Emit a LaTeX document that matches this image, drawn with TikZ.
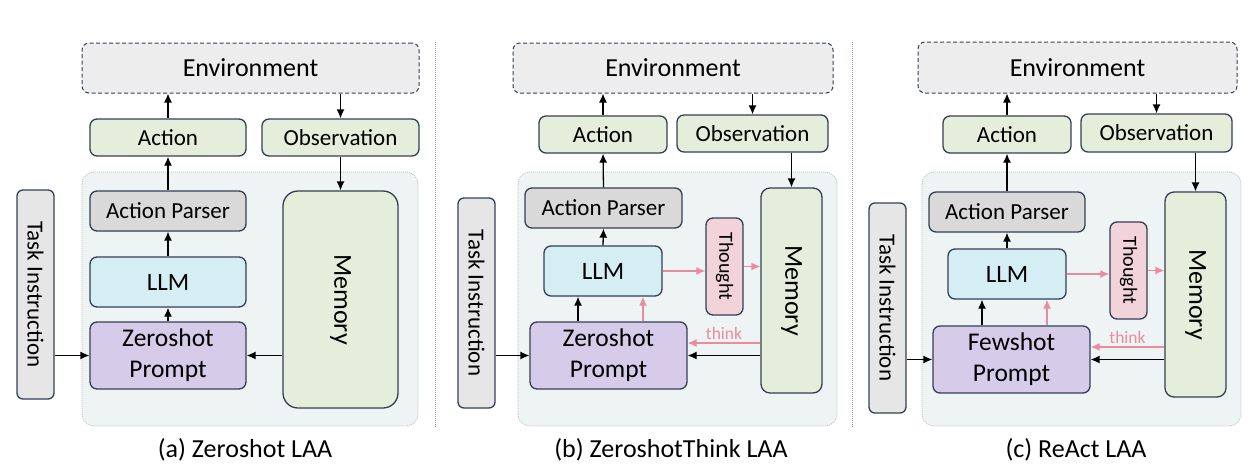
\documentclass[tikz,border=0pt]{standalone}
\usepackage{fontspec}
\setsansfont{Carlito}
\usetikzlibrary{arrows.meta}

\definecolor{edgecol}{RGB}{52,63,86}
\definecolor{envfill}{RGB}{237,237,237}
\definecolor{greenfill}{RGB}{228,238,218}
\definecolor{parserfill}{RGB}{217,217,217}
\definecolor{llmfill}{RGB}{212,238,244}
\definecolor{promptfill}{RGB}{214,204,233}
\definecolor{thoughtfill}{RGB}{242,211,217}
\definecolor{taskfill}{RGB}{231,230,230}
\definecolor{areafill}{RGB}{238,243,243}
\definecolor{thinkpink}{RGB}{233,140,160}

\begin{document}
\begin{tikzpicture}[x=1pt, y=-1pt, font=\sffamily,
    box/.style={draw=edgecol, line width=1.3pt, rounded corners=7pt,
      inner sep=0pt, align=center, font=\sffamily\fontsize{23}{28}\selectfont},
    envbox/.style={box, fill=envfill, dash pattern=on 4pt off 2.5pt,
      line width=1pt, font=\sffamily\fontsize{26}{30}\selectfont},
    greenbox/.style={box, fill=greenfill},
    parserbox/.style={box, fill=parserfill},
    llmbox/.style={box, fill=llmfill, font=\sffamily\fontsize{25}{30}\selectfont},
    promptbox/.style={box, fill=promptfill, font=\sffamily\fontsize{25.5}{31}\selectfont},
    membox/.style={box, fill=greenfill},
    thoughtbox/.style={box, fill=thoughtfill},
    taskbox/.style={box, fill=taskfill, rounded corners=6pt},
    vtext/.style={rotate=-90, inner sep=0pt},
    area/.style={fill=areafill, draw=black!25, line width=0.8pt,
      dash pattern=on 1pt off 1pt, rounded corners=12pt},
    sep/.style={draw=black!40, line width=0.8pt, dash pattern=on 1pt off 1pt},
    arr/.style={-{Latex[length=9pt,width=8pt]}, line width=1.3pt, black},
    pinkarr/.style={arr, draw=thinkpink, -{Latex[length=9pt,width=8pt,color=thinkpink]}},
    caption/.style={font=\sffamily\fontsize{26}{30}\selectfont}]

  \useasboundingbox (0,0) rectangle (1255,471);

  %% separators between the three panels
  \foreach \sx in {435,852} {
    \draw[sep] (\sx,42) -- (\sx,427); }

  %% ---------------- (a) Zeroshot LAA ----------------
  \draw[area] (82,172) rectangle (418,426);
  \node[envbox, minimum width=337pt, minimum height=50pt] (envA) at (250.5,68) {Environment};
  \node[greenbox, minimum width=156pt, minimum height=37pt] (actA) at (168,137.5) {Action};
  \node[greenbox, minimum width=157pt, minimum height=37pt] (obsA) at (340.5,137.5) {Observation};
  \node[parserbox, minimum width=156pt, minimum height=40pt] (apA) at (168,211) {Action Parser};
  \node[llmbox, minimum width=156pt, minimum height=50pt] (llmA) at (168,282) {LLM};
  \node[promptbox, minimum width=156pt, minimum height=67pt] (prA) at (168,355.5) {Zeroshot\\Prompt};
  \node[membox, rounded corners=15pt, minimum width=115pt, minimum height=217pt,
    label={[vtext, font=\sffamily\fontsize{26}{30}\selectfont]center:Memory}] (memA) at (340.5,299.5) {};
  \node[taskbox, minimum width=37pt, minimum height=209pt,
    label={[vtext, font=\sffamily\fontsize{23}{28}\selectfont]center:Task Instruction}] (taskA) at (35.5,294.5) {};

  \draw[arr] (actA.north) -- (envA.south -| actA.north);
  \draw[arr] (envA.south -| obsA.north) -- (obsA.north);
  \draw[arr] (obsA.south) -- (memA.north);
  \draw[arr] (apA.north) -- (actA.south);
  \draw[arr] (llmA.north) -- (apA.south);
  \draw[arr] (prA.north) -- (llmA.south);
  \draw[arr] (memA.west |- prA.east) -- (prA.east);
  \draw[arr] (taskA.east |- prA.west) -- (prA.west);

  \node[caption] (capA) at (245,450) {(a) Zeroshot LAA};

  %% ---------------- (b) ZeroshotThink LAA ----------------
  \draw[area] (518,172) rectangle (837,426);
  \node[envbox, minimum width=320pt, minimum height=50pt] (envB) at (673,68) {Environment};
  \node[greenbox, minimum width=128pt, minimum height=37pt] (actB) at (603,134.5) {Action};
  \node[greenbox, minimum width=151pt, minimum height=37pt] (obsB) at (752.5,133.5) {Observation};
  \node[parserbox, minimum width=157pt, minimum height=40pt] (apB) at (603.5,208) {Action Parser};
  \node[llmbox, minimum width=118pt, minimum height=50pt] (llmB) at (603,271) {LLM};
  \node[thoughtbox, minimum width=37pt, minimum height=97pt,
    label={[vtext, font=\sffamily\fontsize{20}{24}\selectfont]center:Thought}] (thB) at (724.5,266.5) {};
  \node[membox, rounded corners=9pt, minimum width=61pt, minimum height=205pt,
    label={[vtext, font=\sffamily\fontsize{26}{30}\selectfont]center:Memory}] (memB) at (791.5,290.5) {};
  \node[promptbox, minimum width=157pt, minimum height=67pt] (prB) at (608.5,355.5) {Zeroshot\\Prompt};
  \node[taskbox, minimum width=37pt, minimum height=210pt,
    label={[vtext, font=\sffamily\fontsize{23}{28}\selectfont]center:Task Instruction}] (taskB) at (476.5,303) {};

  \draw[arr] (actB.north) -- (envB.south -| actB.north);
  \draw[arr] (envB.south -| obsB.north) -- (obsB.north);
  \draw[arr] (obsB.south -| memB.north) -- (memB.north);
  \draw[arr] (apB.north) -- (actB.south);
  \draw[arr] (llmB.north) -- (apB.south);
  \draw[arr] ([xshift=-25pt]llmB.south |- prB.north) -- ([xshift=-25pt]llmB.south);
  \draw[pinkarr] ([xshift=40pt]llmB.south |- prB.north) -- ([xshift=40pt]llmB.south);
  \draw[pinkarr] (llmB.east) -- (thB.west |- llmB.east);
  \draw[pinkarr] (thB.east) -- (memB.west |- thB.east);
  \draw[pinkarr] ([yshift=12.5pt]memB.west |- prB.east) -- ([yshift=12.5pt]prB.east)
    node[midway, above=-1pt, text=thinkpink, font=\sffamily\fontsize{17.5}{20}\selectfont] (thinkB) {think};
  \draw[arr] (memB.west |- prB.east) -- (prB.east);
  \draw[arr] (taskB.east |- prB.west) -- (prB.west);

  \node[caption] (capB) at (671,450) {(b) ZeroshotThink LAA};

  %% ---------------- (c) ReAct LAA ----------------
  \draw[area] (922,172) rectangle (1241,426);
  \node[envbox, minimum width=319pt, minimum height=51pt] (envC) at (1077.5,67.5) {Environment};
  \node[greenbox, minimum width=128pt, minimum height=37pt] (actC) at (1007,134.5) {Action};
  \node[greenbox, minimum width=151pt, minimum height=38pt] (obsC) at (1156.5,133) {Observation};
  \node[parserbox, minimum width=156pt, minimum height=40pt] (apC) at (1007,212) {Action Parser};
  \node[llmbox, minimum width=118pt, minimum height=50pt] (llmC) at (1007,274) {LLM};
  \node[thoughtbox, minimum width=37pt, minimum height=97pt,
    label={[vtext, font=\sffamily\fontsize{20}{24}\selectfont]center:Thought}] (thC) at (1128.5,270.5) {};
  \node[membox, rounded corners=9pt, minimum width=61pt, minimum height=205pt,
    label={[vtext, font=\sffamily\fontsize{26}{30}\selectfont]center:Memory}] (memC) at (1195.5,294.5) {};
  \node[promptbox, minimum width=157pt, minimum height=67pt] (prC) at (1011.5,359.5) {Fewshot\\Prompt};
  \node[taskbox, minimum width=37pt, minimum height=210pt,
    label={[vtext, font=\sffamily\fontsize{23}{28}\selectfont]center:Task Instruction}] (taskC) at (887.5,308) {};

  \draw[arr] (actC.north) -- (envC.south -| actC.north);
  \draw[arr] (envC.south -| obsC.north) -- (obsC.north);
  \draw[arr] (obsC.south -| memC.north) -- (memC.north);
  \draw[arr] (apC.north) -- (actC.south);
  \draw[arr] (llmC.north) -- (apC.south);
  \draw[arr] ([xshift=-25pt]llmC.south |- prC.north) -- ([xshift=-25pt]llmC.south);
  \draw[pinkarr] ([xshift=40pt]llmC.south |- prC.north) -- ([xshift=40pt]llmC.south);
  \draw[pinkarr] (llmC.east) -- (thC.west |- llmC.east);
  \draw[pinkarr] (thC.east) -- (memC.west |- thC.east);
  \draw[pinkarr] ([yshift=12.5pt]memC.west |- prC.east) -- ([yshift=12.5pt]prC.east)
    node[midway, above=-1pt, text=thinkpink, font=\sffamily\fontsize{17.5}{20}\selectfont] (thinkC) {think};
  \draw[arr] (memC.west |- prC.east) -- (prC.east);
  \draw[arr] (taskC.east |- prC.west) -- (prC.west);

  \node[caption] (capC) at (1076,450) {(c) ReAct LAA};

\end{tikzpicture}
\end{document}
